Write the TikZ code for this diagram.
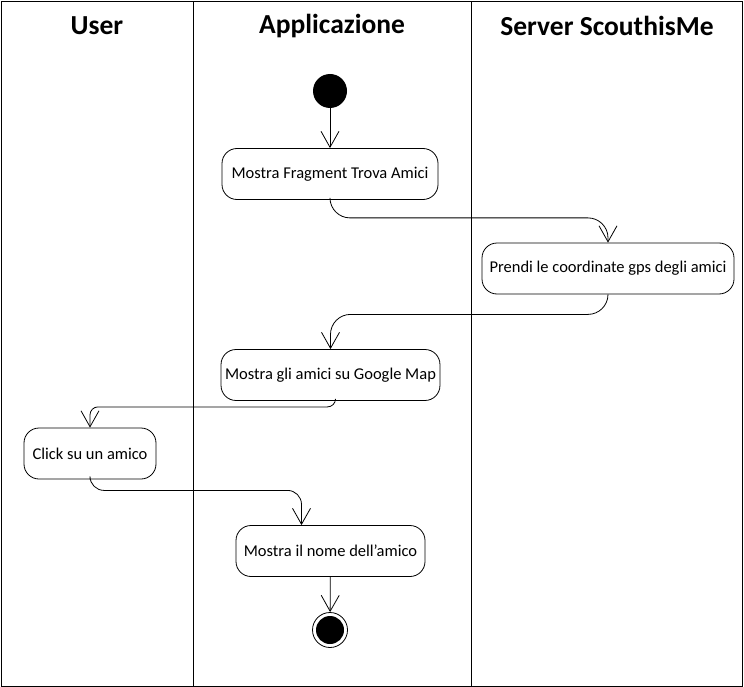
\documentclass[tikz,border=0pt]{standalone}
\usepackage{fontspec}
\setmainfont{Carlito}
\usepackage{tikz}
\usetikzlibrary{arrows.meta}

\begin{document}
\begin{tikzpicture}[x=1pt,y=-1pt,
  lane/.style={line width=1pt},
  head/.style={font=\fontsize{27.5}{32}\selectfont\bfseries},
  act/.style={draw,line width=0.8pt,rounded corners=15pt,minimum height=51pt,inner xsep=4pt,font=\fontsize{16.5}{19}\selectfont},
  init/.style={circle,fill=black,minimum size=34pt,inner sep=0pt},
  fin/.style={circle,draw,line width=0.8pt,minimum size=35pt,inner sep=0pt,
    path picture={\fill (path picture bounding box.center) circle (14pt);}},
  flow/.style={line width=0.8pt,-{Straight Barb[length=16pt,width=18pt,line width=0.8pt]}}]
  \useasboundingbox (0,0) rectangle (744,687);
%Lanes
  \draw[lane] (1.5,1.5) rectangle (742.5,686);
  \draw[lane] (193.5,1.5) -- (193.5,686);
  \draw[lane] (471.5,1.5) -- (471.5,686);
  \node[head] (U) at (97,26) {User};
  \node[head] (P) at (332,26) {Applicazione};
  \node[head] (S) at (607,26) {Server ScouthisMe};
%Start
  \node[init] (Start) at (330,91) {};
%First activity
  \node[act,minimum width=216pt] (A) at (330,174) {Mostra Fragment Trova Amici};
  \draw[flow] (Start) -- (A);
%Second activity
  \node[act,minimum width=252pt] (B) at (608,268.5) {Prendi le coordinate gps degli amici};
  \draw[flow,rounded corners=20pt] (A.south) -- ++(0,18) -| (B.north);
%Third activity
  \node[act,minimum width=217pt] (C) at (330.5,375) {Mostra gli amici su Google Map};
  \draw[flow,rounded corners=20pt] (B.south) -- ++(0,20) -| (C.north);
%Fourth activity
  \node[act,minimum width=132pt] (D) at (90,453.5) {Click su un amico};
  \draw[flow,rounded corners=8pt] ([xshift=5pt]C.south) -- ++(0,6) -| (D.north);
%Fifth activity
  \node[act,minimum width=189pt] (E) at (330.5,551) {Mostra il nome dell'amico};
  \draw[flow,rounded corners=14pt] (D.south) -- ++(0,11) -| ([xshift=-29pt]E.north);
%End
  \node[fin] (End) at (330,630) {};
  \draw[flow] (E) -- (End);
\end{tikzpicture}
\end{document}
